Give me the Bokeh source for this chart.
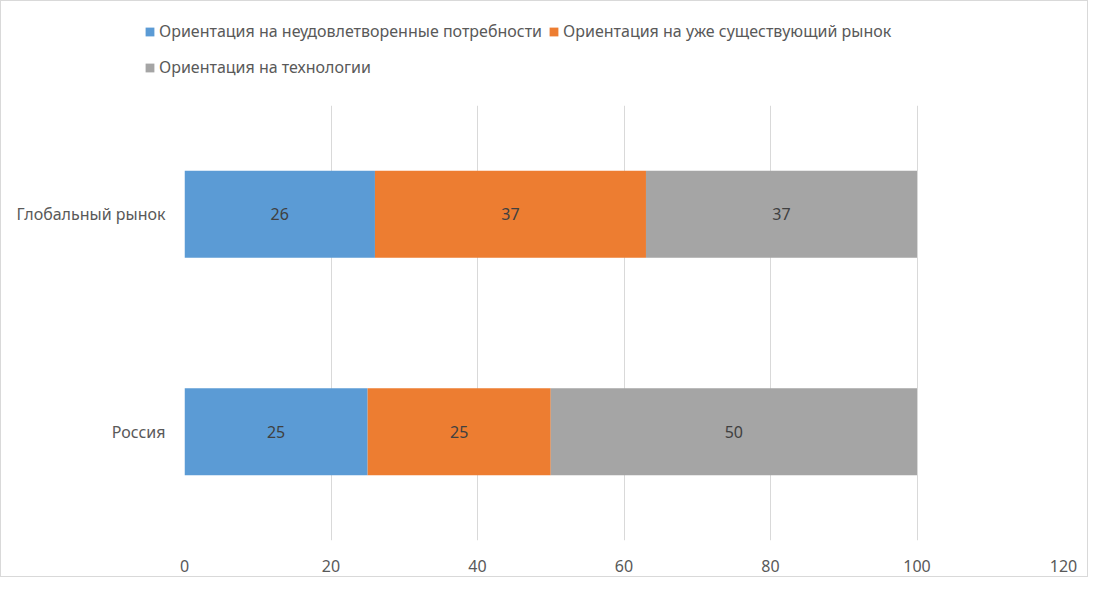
import numpy as np
from bokeh.plotting import figure
from bokeh.layouts import column
from bokeh.models import (ColumnDataSource, FactorRange, Legend, LegendItem,
                          LabelSet, FixedTicker, Range1d)
from bokeh.core.properties import value
from bokeh.embed import file_html
from bokeh.resources import INLINE

# ---- data ----
categories = ["Россия", "Глобальный рынок"]
series_names = ["Ориентация на неудовлетворенные потребности",
                "Ориентация на уже существующий рынок",
                "Ориентация на технологии"]
unmet_needs = [25, 26]
existing_market = [25, 37]
technology = [50, 37]
x_ticks = [0, 20, 40, 60, 80, 100, 120]

colors = ["#5B9BD5", "#ED7D31", "#A5A5A5"]
FONT = "Noto Sans"
FS = "16px"
W = 1086
LEG_H = 104
H = 575

keys = ["s0", "s1", "s2"]
data = {"cat": categories, "s0": unmet_needs, "s1": existing_market, "s2": technology}
source = ColumnDataSource(data)

# ---- main chart ----
p = figure(width=W, height=H - LEG_H, y_range=FactorRange(factors=categories),
           x_range=Range1d(0, 120), output_backend="svg", toolbar_location=None,
           min_border_left=183, min_border_right=24, min_border_top=0,
           min_border_bottom=36)
p.outline_line_color = None

renderers = p.hbar_stack(keys, y="cat", height=0.4, color=colors, source=source,
                         line_color=None)

vals = np.array([unmet_needs, existing_market, technology], dtype=float)
cum = np.cumsum(vals, axis=0)
starts = cum - vals
for i in range(3):
    mids = (starts[i] + cum[i]) / 2
    ls = ColumnDataSource(dict(x=list(mids), y=categories,
                               t=[str(int(v)) for v in vals[i]]))
    lab = LabelSet(x="x", y="y", text="t", source=ls, text_align="center",
                   text_baseline="middle", text_color="#404040",
                   text_font=value(FONT), text_font_size=value(FS))
    p.add_layout(lab)

p.xaxis.ticker = FixedTicker(ticks=x_ticks)
p.xaxis.axis_line_color = None
p.xaxis.major_tick_line_color = None
p.xaxis.minor_tick_line_color = None
p.xaxis.major_label_text_color = "#595959"
p.xaxis.major_label_text_font = FONT
p.xaxis.major_label_text_font_size = FS
p.xaxis.major_label_standoff = 13

p.yaxis.axis_line_color = None
p.yaxis.major_tick_line_color = None
p.yaxis.major_label_text_color = "#595959"
p.yaxis.major_label_text_font = FONT
p.yaxis.major_label_text_font_size = FS
p.yaxis.major_label_standoff = 13

p.xgrid.grid_line_color = "#d9d9d9"
p.ygrid.grid_line_color = None

# ---- legend strip (zero-height bars: only the legend shows) ----
lg = figure(width=W, height=LEG_H, x_range=Range1d(1000, 1001),
            y_range=FactorRange(factors=categories),
            output_backend="svg", toolbar_location=None,
            x_axis_location=None, y_axis_location=None, min_border=0)
try:
    lg.frame_align = False
except AttributeError:
    pass
lg.outline_line_color = None
lg.xgrid.visible = False
lg.ygrid.visible = False
lg_renderers = lg.hbar_stack(keys, y="cat", height=0, color=colors,
                             source=source, line_color=None)


def make_legend(idx, loc):
    return Legend(items=[LegendItem(label=series_names[i], renderers=[lg_renderers[i]])
                         for i in idx],
                  orientation="horizontal", location=loc,
                  label_text_font=FONT, label_text_font_size=FS,
                  label_text_color="#595959", glyph_width=11, glyph_height=11,
                  label_standoff=4, spacing=6, padding=0, margin=0,
                  label_height=20, border_line_color=None,
                  background_fill_alpha=0)


lg.add_layout(make_legend([0, 1], (143, 63)))
lg.add_layout(make_legend([2], (143, 27)))

layout = column(lg, p, spacing=0)
layout.styles = {"border": "1px solid #d9d9d9"}

open("out.html", "w").write(file_html(layout, INLINE))
